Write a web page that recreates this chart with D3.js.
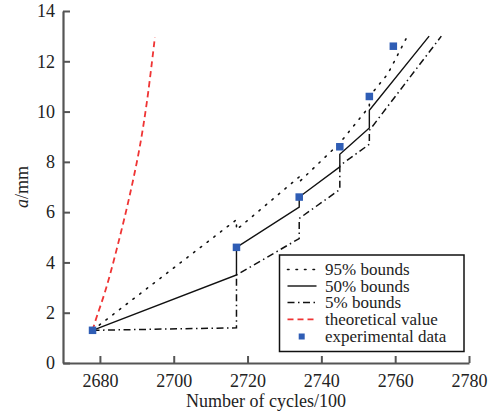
<!DOCTYPE html>
<html>
<head>
<meta charset="utf-8">
<script src="https://cdn.jsdelivr.net/npm/d3@7"></script>
<style>
  body { margin: 0; background: #fff; }
  svg text { font-family: "Liberation Serif", "Times New Roman", Times, "DejaVu Serif", serif; }
</style>
</head>
<body>
<div id="chart"></div>
<script>
// ticks
const xTicks = [2680, 2700, 2720, 2740, 2760, 2780];
const yTicks = [0, 2, 4, 6, 8, 10, 12, 14];

// experimental data (blue squares)
const expCycles = [2678, 2717, 2734, 2745, 2753, 2759.5];
const expA = [1.3, 4.6, 6.6, 8.6, 10.6, 12.6];

// 95% bounds (dotted)
const b95Cycles = [2678, 2717, 2717, 2734, 2734, 2745, 2753, 2753, 2758, 2763.5];
const b95A = [1.3, 5.7, 5.3, 7.4, 7.2, 8.75, 10.2, 10.6, 11.5, 13.05];

// 50% bounds (solid)
const b50Cycles = [2678, 2717, 2717, 2734, 2734, 2745, 2745, 2753, 2753, 2769.2];
const b50A = [1.3, 3.5, 4.6, 6.2, 6.6, 7.8, 8.3, 9.35, 10.05, 13.0];

// 5% bounds (dash-dot)
const b5Cycles = [2678, 2717, 2717, 2734, 2734, 2745, 2745, 2753, 2753, 2772.5];
const b5A = [1.3, 1.4, 3.5, 4.95, 5.75, 6.9, 7.85, 8.7, 9.25, 13.0];

// theoretical value (red dashed)
const theoCycles = [2678, 2678.7, 2681.8, 2685.4, 2688.4, 2690.8, 2692.8, 2694.9];
const theoA = [1.3, 1.64, 3.03, 5.02, 6.88, 8.6, 10.46, 12.96];

const W = 493, H = 415;
const margin = { top: 11, right: 24, bottom: 52, left: 63 };
const width = W - margin.left - margin.right;
const height = H - margin.top - margin.bottom;
const serif = "'Liberation Serif', 'Times New Roman', Times, 'DejaVu Serif', serif";

const svg = d3.select("#chart").append("svg")
    .attr("width", W)
    .attr("height", H)
    .attr("font-family", serif);

const g = svg.append("g")
    .attr("transform", "translate(" + margin.left + "," + margin.top + ")");

const x = d3.scaleLinear().domain([2670, 2780]).range([0, width]);
const y = d3.scaleLinear().domain([0, 14]).range([height, 0]);

const axisColor = "#555";

// axes with inward ticks
const xAxis = g.append("g")
    .attr("transform", "translate(0," + height + ")")
    .call(d3.axisBottom(x).tickValues(xTicks).tickFormat(d3.format("d"))
        .tickSizeInner(-7).tickSizeOuter(0).tickPadding(11));
const yAxis = g.append("g")
    .call(d3.axisLeft(y).tickValues(yTicks).tickFormat(d3.format("d"))
        .tickSizeInner(-7).tickSizeOuter(0).tickPadding(8));

[xAxis, yAxis].forEach(function(ax) {
    ax.attr("font-family", serif).attr("font-size", 18);
    ax.select(".domain").attr("stroke", axisColor).attr("stroke-width", 2.2);
    ax.selectAll(".tick line").attr("stroke", axisColor).attr("stroke-width", 2);
    ax.selectAll(".tick text").attr("fill", "#222");
});

// axis titles
g.append("text")
    .attr("x", width / 2)
    .attr("y", height + 44)
    .attr("text-anchor", "middle")
    .attr("fill", "#222")
    .attr("font-size", 18)
    .text("Number of cycles/100");

const yTitle = g.append("text")
    .attr("transform", "translate(" + (22 - margin.left) + "," + (height / 2) + ") rotate(-90)")
    .attr("text-anchor", "middle")
    .attr("dy", "0.35em")
    .attr("fill", "#222")
    .attr("font-size", 18);
yTitle.append("tspan").attr("font-style", "italic").text("a");
yTitle.append("tspan").text("/mm");

const zip = (a, b) => a.map((v, i) => [v, b[i]]);

const series = [
    { name: "95% bounds", pts: zip(b95Cycles, b95A), color: "#111", width: 1.6, dash: "1.5,7", cap: "round", curve: d3.curveLinear },
    { name: "50% bounds", pts: zip(b50Cycles, b50A), color: "#111", width: 1.4, dash: null, cap: "butt", curve: d3.curveLinear },
    { name: "5% bounds", pts: zip(b5Cycles, b5A), color: "#111", width: 1.5, dash: "7,3.5,1.5,3.5", cap: "butt", curve: d3.curveLinear },
    { name: "theoretical value", pts: zip(theoCycles, theoA), color: "#ef3434", width: 1.8, dash: "6,4", cap: "butt", curve: d3.curveCatmullRom }
];

series.forEach(function(s) {
    const line = d3.line().x(d => x(d[0])).y(d => y(d[1])).curve(s.curve);
    g.append("path")
        .datum(s.pts)
        .attr("d", line)
        .attr("fill", "none")
        .attr("stroke", s.color)
        .attr("stroke-width", s.width)
        .attr("stroke-dasharray", s.dash)
        .attr("stroke-linecap", s.cap);
});

// experimental squares
const sq = 7.5;
g.selectAll(".exp")
    .data(zip(expCycles, expA))
    .enter().append("rect")
    .attr("class", "exp")
    .attr("x", d => x(d[0]) - sq / 2)
    .attr("y", d => y(d[1]) - sq / 2)
    .attr("width", sq)
    .attr("height", sq)
    .attr("fill", "#2f5db5");

// legend
const legend = svg.append("g").attr("transform", "translate(279.5,255)");
legend.append("rect")
    .attr("width", 184.5)
    .attr("height", 96.5)
    .attr("fill", "#fff")
    .attr("stroke", "#111")
    .attr("stroke-width", 1.5);

const rowY = [14.5, 31, 47.5, 64.3, 81.5];
series.forEach(function(s, i) {
    legend.append("line")
        .attr("x1", 8).attr("x2", 37)
        .attr("y1", rowY[i]).attr("y2", rowY[i])
        .attr("stroke", s.color)
        .attr("stroke-width", s.width)
        .attr("stroke-dasharray", s.dash)
        .attr("stroke-linecap", s.cap);
});
legend.append("rect")
    .attr("x", 22.2 - 3)
    .attr("y", rowY[4] - 3)
    .attr("width", 6)
    .attr("height", 6)
    .attr("fill", "#2f5db5");

const labels = series.map(s => s.name).concat(["experimental data"]);
legend.selectAll(".lab")
    .data(labels)
    .enter().append("text")
    .attr("x", 45.5)
    .attr("y", (d, i) => rowY[i])
    .attr("dy", "0.33em")
    .attr("fill", "#222")
    .attr("font-size", 17)
    .text(d => d);
</script>
</body>
</html>
